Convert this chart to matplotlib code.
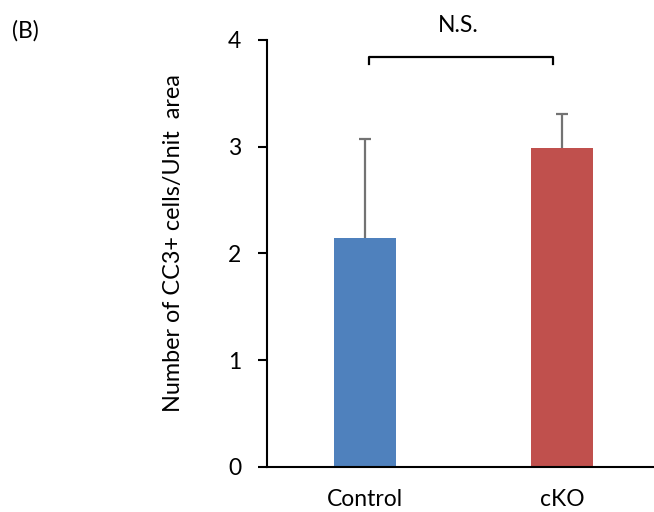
import matplotlib.pyplot as plt
import numpy as np

plt.rcParams['font.family'] = ['Lato', 'DejaVu Sans']

# Mean CC3+ counts per unit area with upper error (SD)
groups = ["Control", "cKO"]
means = [2.14, 2.99]
errors = [0.93, 0.32]
bar_colors = ["#4F81BD", "#C0504D"]
y_ticks = [0, 1, 2, 3, 4]

fig = plt.figure(figsize=(6.54, 5.12), dpi=100)
ax = fig.add_axes([0.4078, 0.0885, 0.6024, 0.8334])

x = np.arange(len(groups))
ax.bar(x, means, width=0.315, color=bar_colors, zorder=2)

# only the upper half of the error bar is drawn
eb = ax.errorbar(x, means, yerr=[np.zeros(len(errors)), errors], fmt='none',
                 ecolor='#737373', elinewidth=1.6, capsize=4.3, capthick=1.6, zorder=3)
eb[1][0].set_visible(False)

ax.set_xlim(-0.5, 1.5)
ax.set_ylim(0, 4)
ax.set_yticks(y_ticks)
ax.set_yticklabels([str(t) for t in y_ticks], fontsize=16.5)
ax.set_xticks(x)
ax.set_xticklabels(groups, fontsize=16.5)
ax.tick_params(axis='y', length=6.3, width=1.5, pad=12)
ax.tick_params(axis='x', length=0, pad=16)

for side in ['top', 'right']:
    ax.spines[side].set_visible(False)
for side in ['left', 'bottom']:
    ax.spines[side].set_linewidth(1.5)

ax.set_ylabel("Number of CC3+ cells/Unit  area", fontsize=16.8)
ax.yaxis.set_label_coords(-0.21, 0.523)

# significance bracket
bx0, bx1, by, bdrop = 0.02, 0.955, 3.84, 0.065
ax.plot([bx0, bx0, bx1, bx1], [by - bdrop, by, by, by - bdrop], color='black',
        lw=1.6, clip_on=False)
ax.text(0.47, 4.14, "N.S.", ha='center', va='center', fontsize=16.5)

fig.text(0.018, 0.94, "(B)", ha='left', va='center', fontsize=16.5)

fig.savefig("out.png", dpi=100)
